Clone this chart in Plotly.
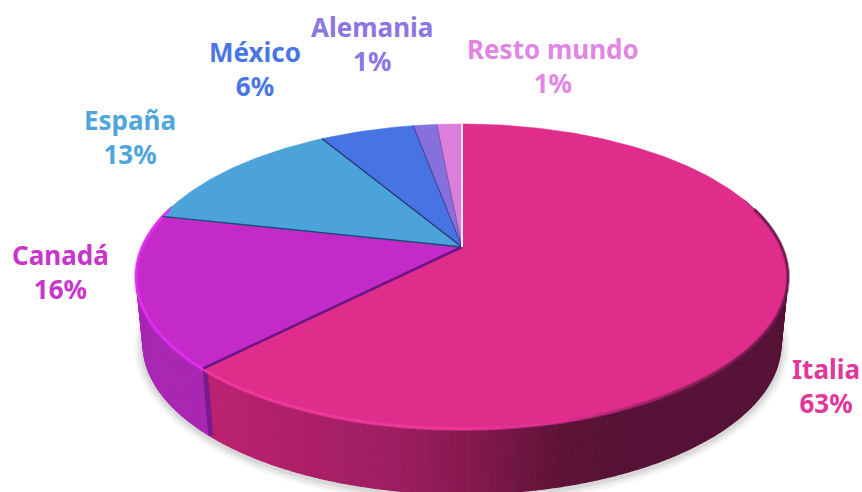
import numpy as np
import plotly.graph_objects as go

categories = ["Italia", "Canadá", "España", "México", "Alemania", "Resto mundo"]
values = [62.3, 16.2, 13.0, 5.6, 1.4, 1.5]
shown_pct = ["63%", "16%", "13%", "6%", "1%", "1%"]
colors = ["#E02D8C", "#C42AC8", "#4BA3D9", "#4874E3", "#8670DC", "#DC7EDC"]
label_colors = ["#E2379A", "#C935CC", "#4FA6DC", "#4A76E5", "#8D75E2", "#E285E4"]
label_xy = [(826, 386), (60, 272), (130, 137), (255, 69), (372, 44), (553, 66)]

W, H = 862, 492
TOP = dict(cx=462, cy=276, rx=326, ry=152)
BOT = dict(cx=462, cy=344, rx=319, ry=150)
K = (247 - 276) / 152


def proj(theta, e):
    """Perspective projection of a disc point, theta clockwise from 12 o'clock (radians)."""
    c, s = np.sin(theta), -np.cos(theta)
    d = 1 + K * s
    return (e["cx"] + e["rx"] * c * np.sqrt(1 - K**2) / d,
            e["cy"] + e["ry"] * (s + K) / d)


def centre(e):
    return e["cx"], e["cy"] + e["ry"] * K


def lerp_hex(x, xs, cols):
    rgb = np.array([[int(c[i:i + 2], 16) for i in (1, 3, 5)] for c in cols], float)
    return "rgb(%d,%d,%d)" % tuple(np.interp(x, xs, rgb[:, j]) for j in range(3))


fig = go.Figure()


def poly(xs, ys, color, opacity=1.0, lw=0.6):
    fig.add_trace(go.Scatter(x=list(xs), y=list(ys), mode="lines", fill="toself", fillcolor=color,
                             line=dict(width=lw, color=color), opacity=opacity, hoverinfo="skip"))


def line(xs, ys, color, width, opacity=1.0):
    fig.add_trace(go.Scatter(x=list(xs), y=list(ys), mode="lines", line=dict(color=color, width=width),
                             opacity=opacity, hoverinfo="skip"))


fractions = np.array(values) / sum(values)
edges = np.concatenate([[0], np.cumsum(fractions)]) * 2 * np.pi
boundary = edges[1]
full = np.linspace(0, 2 * np.pi, 241)

# soft ground shadow
for grow, op in [(9, .035), (6, .05), (3, .07)]:
    sx, sy = proj(full, dict(BOT, cy=BOT["cy"] + 2, rx=BOT["rx"] + grow, ry=BOT["ry"] + grow))
    poly(sx, sy, "#000000", op, 0)

# side wall, in thin strips so that the shading varies
ital_x = [200, 300, 400, 470, 560, 620, 800]
ital_c = ["#BE2272", "#AE2068", "#9C1E60", "#85194F", "#5F1339", "#561236", "#561236"]
th = np.radians(np.arange(74, 288, 1.0))
for a, b in zip(th[:-1], th[1:]):
    mid = (a + b) / 2
    tx, ty = proj(np.array([a, b]), TOP)
    bx, by = proj(np.array([a, b]), BOT)
    if mid < boundary:
        col = lerp_hex((tx[0] + tx[1]) / 2, ital_x, ital_c)
    else:
        col = "#A926B3"
    poly([tx[0], tx[1], bx[1], bx[0]], [ty[0], ty[1], by[1], by[0]], col, 1, 1.2)

# dark strip on the wall where the slices meet
t0x, t0y = proj(boundary, TOP)
b0x, b0y = proj(boundary, BOT)
line([t0x + 2, b0x + 2], [t0y + 2, b0y], "#7B1A8C", 5)

# top face
for i, col in enumerate(colors):
    t = np.linspace(edges[i], edges[i + 1], max(4, int(values[i] * 4)))
    px, py = proj(t, TOP)
    ax, ay = centre(TOP)
    poly(np.r_[ax, px, ax], np.r_[ay, py, ay], col)

# rim highlights and the darker far edge
rim = np.radians(np.arange(74, 288, 2.0))
rim_x = [200, 450, 560, 640, 720, 800]
rim_c = ["#F53CA0", "#F53CA0", "#E83498", "#B02470", "#802058", "#6A1A48"]
for a, b in zip(rim[:-1], rim[1:]):
    mid = (a + b) / 2
    rx_, ry_ = proj(np.array([a, b]), TOP)
    col = lerp_hex((rx_[0] + rx_[1]) / 2, rim_x, rim_c) if mid < boundary else "#E233F2"
    line(rx_, ry_ + 1, col, 4, .45)
    line(rx_, ry_ + 1, col, 2, .9)
far = np.radians(np.arange(70, 82, 2.0))
fx, fy = proj(far, TOP)
line(fx, fy, "#6A1A48", 1, .5)

# slice separators
ax, ay = centre(TOP)
sep_styles = {1: ("#6A1585", 2.6), 2: ("#1F4A78", 1.4), 3: ("#23356F", 1.3),
              4: ("#3A3A90", 1), 5: ("#5A4AA0", 0.8)}
for i, (col, wd) in sep_styles.items():
    px, py = proj(edges[i], TOP)
    line([ax, px], [ay, py], col, wd)
px, py = proj(0.0, TOP)
line([ax, px], [ay, py], "#EDEDED", 2)

annotations = [
    dict(x=x, y=y, text=f"{n}<br>{p}", showarrow=False, xref="x", yref="y", align="center",
         font=dict(family="Noto Sans", size=26, color=c, weight=700))
    for n, p, c, (x, y) in zip(categories, shown_pct, label_colors, label_xy)
]

fig.update_layout(
    width=W, height=H, margin=dict(l=0, r=0, t=0, b=0), showlegend=False,
    paper_bgcolor="white", plot_bgcolor="white", annotations=annotations,
    xaxis=dict(range=[0, W], visible=False, fixedrange=True),
    yaxis=dict(range=[H, 0], visible=False, fixedrange=True),
)
fig.write_html("out.html", config={"displayModeBar": False},
               post_script="document.body.style.margin='0';document.documentElement.style.overflow='hidden';")
